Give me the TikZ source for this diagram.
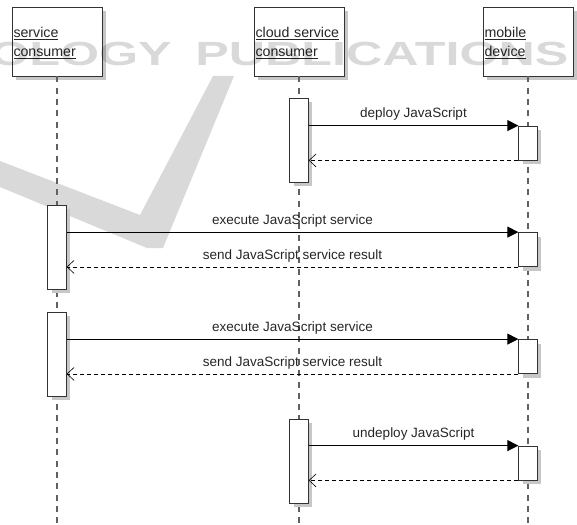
\documentclass[tikz,border=0pt]{standalone}
\usepackage{fontspec}
\setmainfont{Liberation Sans}
\usepackage{tikz}
\usetikzlibrary{arrows.meta,shadows}

\newcommand{\seqfont}{\fontsize{13.5}{19}\selectfont}
\newcommand{\headfont}{\fontsize{14.2}{19}\selectfont}

\tikzset{
	head/.style={draw=black!80, line width=0.8pt, fill=white,
		minimum width=90pt, minimum height=69pt, text width=87pt,
		inner xsep=1.5pt, align=left, font=\headfont, text=black!85,
		execute at begin node={\rule{0pt}{12.6pt}},
		drop shadow={shadow xshift=4pt, shadow yshift=-4pt, fill=black!22, opacity=1}},
	act/.style={draw=black!80, line width=0.8pt, fill=white,
		minimum width=18.5pt, inner sep=0pt,
		drop shadow={shadow xshift=4pt, shadow yshift=-4pt, fill=black!22, opacity=1}},
	lifeline/.style={draw=black!62, line width=1.4pt, dash pattern=on 6pt off 5.3pt},
	call/.style={-{Triangle[length=11pt,width=11pt]}, line width=0.8pt},
	reply/.style={-{Straight Barb[length=7pt,width=13pt,line width=0.6pt]},
		line width=0.7pt, dash pattern=on 4pt off 3pt},
	msg/.style={font=\seqfont, text=black!85, inner sep=0pt},
	wmark/.style={font=\fontsize{33.5}{33.5}\selectfont\bfseries, text=black,
		text opacity=0.15, inner sep=0pt, xscale=1.5}
}

\begin{document}
\begin{tikzpicture}[x=1pt, y=-1pt]
	\useasboundingbox (0,0) rectangle (577,524);

	% faint swoosh in the back
	\fill[black!15] (0,161) -- (140,215) -- (213,76) -- (234,76) -- (163,248)
		-- (147,248) -- (0,187) -- cycle;

	% participants
	\node[head] (consumer) at (57,41.5) {\underline{service}\\\underline{consumer}};
	\node[head] (cloud) at (299,41.5) {\underline{cloud service}\\\underline{consumer}};
	\node[head] (device) at (528,41.5) {\underline{mobile}\\\underline{device}};

	\coordinate (bottom) at (0,524);
	\foreach \p in {consumer, cloud, device}
		\draw[lifeline] (\p.south) -- (\p.south |- bottom);

	% activation bars
	\node[act, minimum height=84pt] (cloudA) at (299,140) {};
	\node[act, minimum height=34pt] (deviceA) at (528,143) {};

	\node[act, minimum height=84pt] (consumerA) at (57,247) {};
	\node[act, minimum height=34pt] (deviceB) at (528,249.5) {};

	\node[act, minimum height=84pt] (consumerB) at (57,354) {};
	\node[act, minimum height=34pt] (deviceC) at (528,356.5) {};

	\node[act, minimum height=84pt] (cloudB) at (299,461) {};
	\node[act, minimum height=34pt] (deviceD) at (528,463) {};

	% messages
	\draw[call] (cloudA.east |- deviceA.north) -- node[msg, above=4.5pt] {deploy JavaScript} (deviceA.north west);
	\draw[reply] (deviceA.south west) -- (deviceA.south west -| cloudA.east);

	\draw[call] (consumerA.east |- deviceB.north) -- node[msg, above=4.5pt] {execute JavaScript service} (deviceB.north west);
	\draw[reply] (deviceB.south west) -- node[msg, above=4.5pt] {send JavaScript service result} (deviceB.south west -| consumerA.east);

	\draw[call] (consumerB.east |- deviceC.north) -- node[msg, above=4.5pt] {execute JavaScript service} (deviceC.north west);
	\draw[reply] (deviceC.south west) -- node[msg, above=4.5pt] {send JavaScript service result} (deviceC.south west -| consumerB.east);

	\draw[call] (cloudB.east |- deviceD.north) -- node[msg, above=4.5pt] {undeploy JavaScript} (deviceD.north west);
	\draw[reply] (deviceD.south west) -- (deviceD.south west -| cloudB.east);

	% faint lettering over the top
	\node[wmark, anchor=base east] (wmleft) at (172,66) {OLOGY};
	\node[wmark, anchor=base west] (wmright) at (195,66) {PUBLICATIONS};
\end{tikzpicture}
\end{document}
